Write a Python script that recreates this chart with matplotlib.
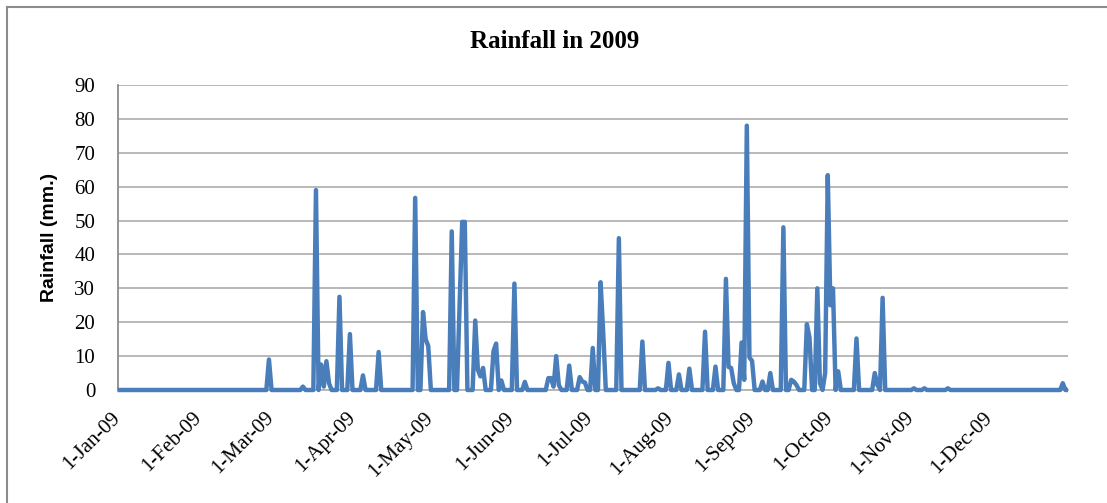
import matplotlib
matplotlib.use("Agg")
import matplotlib.pyplot as plt
from matplotlib.lines import Line2D
import pandas as pd

# Rainy days of 2009 (all other days: 0 mm)
rain_dates = [
    "2009-02-28", "2009-03-13", "2009-03-18", "2009-03-20", "2009-03-21", "2009-03-22",
    "2009-03-23", "2009-03-27", "2009-03-31", "2009-04-05", "2009-04-11", "2009-04-25",
    "2009-04-28", "2009-04-29", "2009-04-30", "2009-05-09", "2009-05-12", "2009-05-13",
    "2009-05-14", "2009-05-18", "2009-05-19", "2009-05-20", "2009-05-21", "2009-05-25",
    "2009-05-26", "2009-05-28", "2009-06-02", "2009-06-06", "2009-06-15", "2009-06-16",
    "2009-06-17", "2009-06-18", "2009-06-19", "2009-06-23", "2009-06-27", "2009-06-28",
    "2009-06-29", "2009-07-02", "2009-07-05", "2009-07-06", "2009-07-12", "2009-07-21",
    "2009-07-27", "2009-07-31", "2009-08-04", "2009-08-08", "2009-08-14", "2009-08-18",
    "2009-08-22", "2009-08-23", "2009-08-24", "2009-08-25", "2009-08-28", "2009-08-29",
    "2009-08-30", "2009-08-31", "2009-09-01", "2009-09-05", "2009-09-08", "2009-09-13",
    "2009-09-16", "2009-09-17", "2009-09-18", "2009-09-22", "2009-09-23", "2009-09-26",
    "2009-09-27", "2009-09-29", "2009-09-30", "2009-10-01", "2009-10-02", "2009-10-04",
    "2009-10-11", "2009-10-18", "2009-10-19", "2009-10-21", "2009-11-02", "2009-11-06",
    "2009-11-15", "2009-12-29",
]
rain_mm = [
    9, 1, 59, 7.5, 1, 8.5,
    2, 27.5, 16.5, 4.3, 11.2, 56.7,
    23, 15, 13, 46.8, 25, 49.6,
    49.6, 20.5, 6, 4, 6.5, 11.5,
    13.7, 2.8, 31.4, 2.4, 3.5, 3.5,
    1, 10, 1.5, 7.2, 3.8, 2.5,
    2.2, 12.4, 31.8, 17, 44.8, 14.3,
    0.5, 8, 4.6, 6.3, 17.2, 6.9,
    32.8, 6.8, 6.5, 2, 14, 3,
    78, 9.6, 8.6, 2.5, 5, 48,
    3, 2.5, 1.5, 19.4, 15.5, 30,
    2, 5, 63.4, 25, 30, 5.5,
    15.2, 5, 1.5, 27.2, 0.5, 0.5,
    0.5, 2,
]

month_ticks = ["2009-%02d-01" % m for m in range(1, 13)]
month_labels = ["1-Jan-09", "1-Feb-09", "1-Mar-09", "1-Apr-09", "1-May-09", "1-Jun-09",
                "1-Jul-09", "1-Aug-09", "1-Sep-09", "1-Oct-09", "1-Nov-09", "1-Dec-09"]
y_ticks = [0, 10, 20, 30, 40, 50, 60, 70, 80, 90]

days = pd.date_range("2009-01-01", "2009-12-31", freq="D")
series = pd.Series(0.0, index=days)
series.loc[pd.to_datetime(rain_dates)] = rain_mm

W, H = 1107, 503
fig = plt.figure(figsize=(W / 100, H / 100), dpi=100)
ax = fig.add_axes([117.5 / W, 1 - 390 / H, (1068 - 117.5) / W, (390 - 85) / H])

ax.plot(series.index, series.values, color="#4a7ebb", lw=3.2,
        solid_joinstyle="round", solid_capstyle="butt", zorder=3, clip_on=False)

ax.set_xlim(days[0], days[-1])
ax.set_ylim(0, 90)
ax.set_yticks(y_ticks)
ax.yaxis.grid(True, color="#b3b3b3", lw=1.3)
ax.set_axisbelow(True)
ax.set_xticks(pd.to_datetime(month_ticks))
ax.set_xticklabels(month_labels, rotation=45, ha="right", va="center",
                   rotation_mode="anchor", family="Liberation Serif", fontsize=15)
for lab in ax.get_yticklabels():
    lab.set_family("Liberation Serif")
    lab.set_fontsize(15)
ax.tick_params(axis="both", length=0)
ax.tick_params(axis="y", pad=16)
ax.tick_params(axis="x", pad=18)

for s in ["top", "right"]:
    ax.spines[s].set_visible(False)
ax.spines["left"].set_color("#8c8c8c")
ax.spines["left"].set_linewidth(1.3)
ax.spines["bottom"].set_color("#b3b3b3")
ax.spines["bottom"].set_linewidth(1.3)

ax.set_ylabel("Rainfall (mm.)", family="Liberation Sans", fontweight="bold",
              fontsize=14, labelpad=12)
fig.text(555 / W, 1 - 42 / H, "Rainfall in 2009", ha="center", va="center",
         family="Liberation Serif", fontweight="bold", fontsize=18)

# outer chart border (left and top visible)
fig.add_artist(Line2D([7 / W, 7 / W], [0, 1 - 7 / H], transform=fig.transFigure,
                      color="#8c8c8c", lw=1.5))
fig.add_artist(Line2D([7 / W, 1], [1 - 7 / H, 1 - 7 / H], transform=fig.transFigure,
                      color="#8c8c8c", lw=1.5))

fig.savefig("out.png", dpi=100)
